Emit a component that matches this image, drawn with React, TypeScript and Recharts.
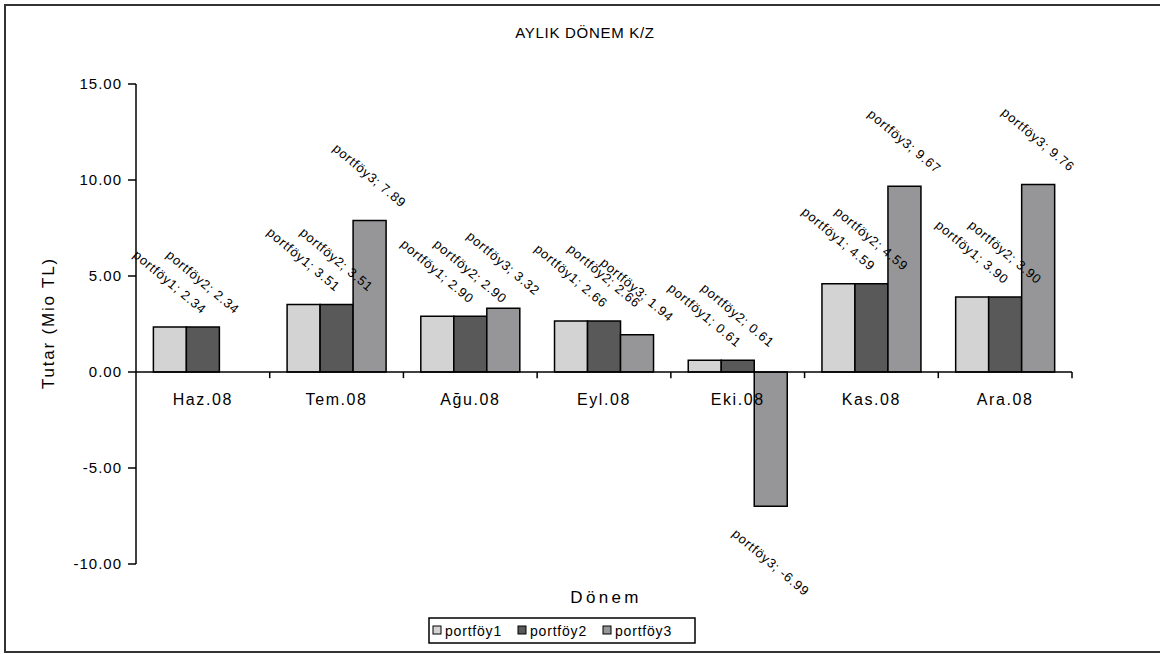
import React from "react";
import {
  BarChart,
  Bar,
  XAxis,
  YAxis,
  LabelList,
  ReferenceLine,
  ReferenceDot,
} from "recharts";

const categories = ["Haz.08", "Tem.08", "Ağu.08", "Eyl.08", "Eki.08", "Kas.08", "Ara.08"];
const portfoy1 = [2.34, 3.51, 2.9, 2.66, 0.61, 4.59, 3.9];
const portfoy2 = [2.34, 3.51, 2.9, 2.66, 0.61, 4.59, 3.9];
const portfoy3 = [0.0, 7.89, 3.32, 1.94, -6.99, 9.67, 9.76];
const yTicks = [-10, -5, 0, 5, 10, 15];

const seriesNames = ["portföy1", "portföy2", "portföy3"];
const seriesColors = ["#d3d3d3", "#595959", "#969699"];

const data = categories.map((c, i) => ({
  name: c,
  pos: i + 0.5,
  p1: portfoy1[i],
  p2: portfoy2[i],
  p3: portfoy3[i],
}));

const FONT = "'Liberation Sans', Arial, sans-serif";

// rotated "seri; değer" labels like the excel export
function makeLabel(name: string) {
  return (props: any) => {
    const { x, y, width, height, value } = props;
    const v = Number(value);
    const text = `${name}; ${v.toFixed(2)}`;
    const len = text.length * 6.9;
    const a = (40 * Math.PI) / 180;
    const half = (len * Math.sin(a) + 13 * Math.cos(a)) / 2;
    const cx = x + width / 2;
    const top = Math.min(y, y + height);
    const bottom = Math.max(y, y + height);
    const cy = v < 0 ? bottom + half + 18 : top - half - 9;
    return (
      <text
        x={cx}
        y={cy}
        transform={`rotate(40 ${cx} ${cy})`}
        textAnchor="middle"
        dominantBaseline="central"
        fontSize={13}
        letterSpacing={0.8}
        fontFamily={FONT}
        fill="#000"
        opacity={v === 0 ? 0.3 : 1}
      >
        {text}
      </text>
    );
  };
}

export default function App() {
  const keys = ["p1", "p2", "p3"];
  return (
    <div
      style={{
        position: "absolute",
        left: 0,
        top: 0,
        width: 1160,
        height: 654,
        overflow: "hidden",
        background: "#fff",
        fontFamily: FONT,
      }}
    >
      <div
        style={{
          position: "absolute",
          left: 4,
          top: 4,
          width: 1170,
          height: 649,
          border: "2px solid #333",
          boxSizing: "border-box",
        }}
      />
      <BarChart
        width={1160}
        height={654}
        data={data}
        margin={{ top: 84, right: 88, bottom: 90, left: 56 }}
        barCategoryGap="13%"
        barGap={0}
      >
        <XAxis dataKey="name" hide />
        <XAxis xAxisId="n" dataKey="pos" type="number" domain={[0, 7]} allowDataOverflow hide />
        <YAxis
          width={80}
          domain={[-10, 15]}
          ticks={yTicks}
          allowDataOverflow
          interval={0}
          tickFormatter={(v: number) => v.toFixed(2)}
          tickSize={8}
          tickMargin={6}
          stroke="#000"
          strokeWidth={1.5}
          tick={{ fill: "#000", fontSize: 15, letterSpacing: 1, fontFamily: FONT }}
        />
        {keys.map((k, i) => (
          <Bar
            key={k}
            dataKey={k}
            name={seriesNames[i]}
            fill={seriesColors[i]}
            stroke="#000"
            strokeWidth={1.5}
            isAnimationActive={false}
          >
            <LabelList dataKey={k} content={makeLabel(seriesNames[i])} />
          </Bar>
        ))}
        <ReferenceLine y={0} stroke="#000" strokeWidth={1.5} />
        {[1, 2, 3, 4, 5, 6, 7].map((b) => (
          <ReferenceLine
            key={b}
            xAxisId="n"
            segment={[
              { x: b, y: 0 },
              { x: b, y: -0.32 },
            ]}
            stroke="#000"
            strokeWidth={1.5}
            ifOverflow="visible"
          />
        ))}
        {categories.map((c) => (
          <ReferenceDot
            key={c}
            x={c}
            y={0}
            r={0}
            ifOverflow="visible"
            shape={(p: any) => (
              <text
                x={p.cx}
                y={p.cy + 33}
                textAnchor="middle"
                fontSize={16}
                letterSpacing={1.6}
                fontFamily={FONT}
                fill="#000"
              >
                {c}
              </text>
            )}
          />
        ))}
      </BarChart>
      <svg
        width={1160}
        height={654}
        style={{ position: "absolute", left: 0, top: 0, pointerEvents: "none" }}
        fontFamily={FONT}
      >
        <text x={585} y={38} textAnchor="middle" fontSize={15} letterSpacing={0.7}>
          AYLIK DÖNEM K/Z
        </text>
        <text x={606} y={603} textAnchor="middle" fontSize={17} letterSpacing={3.3}>
          Dönem
        </text>
        <text
          x={54}
          y={323}
          transform="rotate(-90 54 323)"
          textAnchor="middle"
          fontSize={17}
          letterSpacing={1.8}
        >
          Tutar (Mio TL)
        </text>
        <rect x={429} y={618} width={266} height={25} fill="#fff" stroke="#000" strokeWidth={1.5} />
        {seriesNames.map((n, i) => (
          <g key={n}>
            <rect
              x={433 + i * 85}
              y={626}
              width={8}
              height={8}
              fill={seriesColors[i]}
              stroke="#000"
              strokeWidth={1}
            />
            <text x={445 + i * 85} y={636} fontSize={14} letterSpacing={0.8}>
              {n}
            </text>
          </g>
        ))}
      </svg>
    </div>
  );
}
